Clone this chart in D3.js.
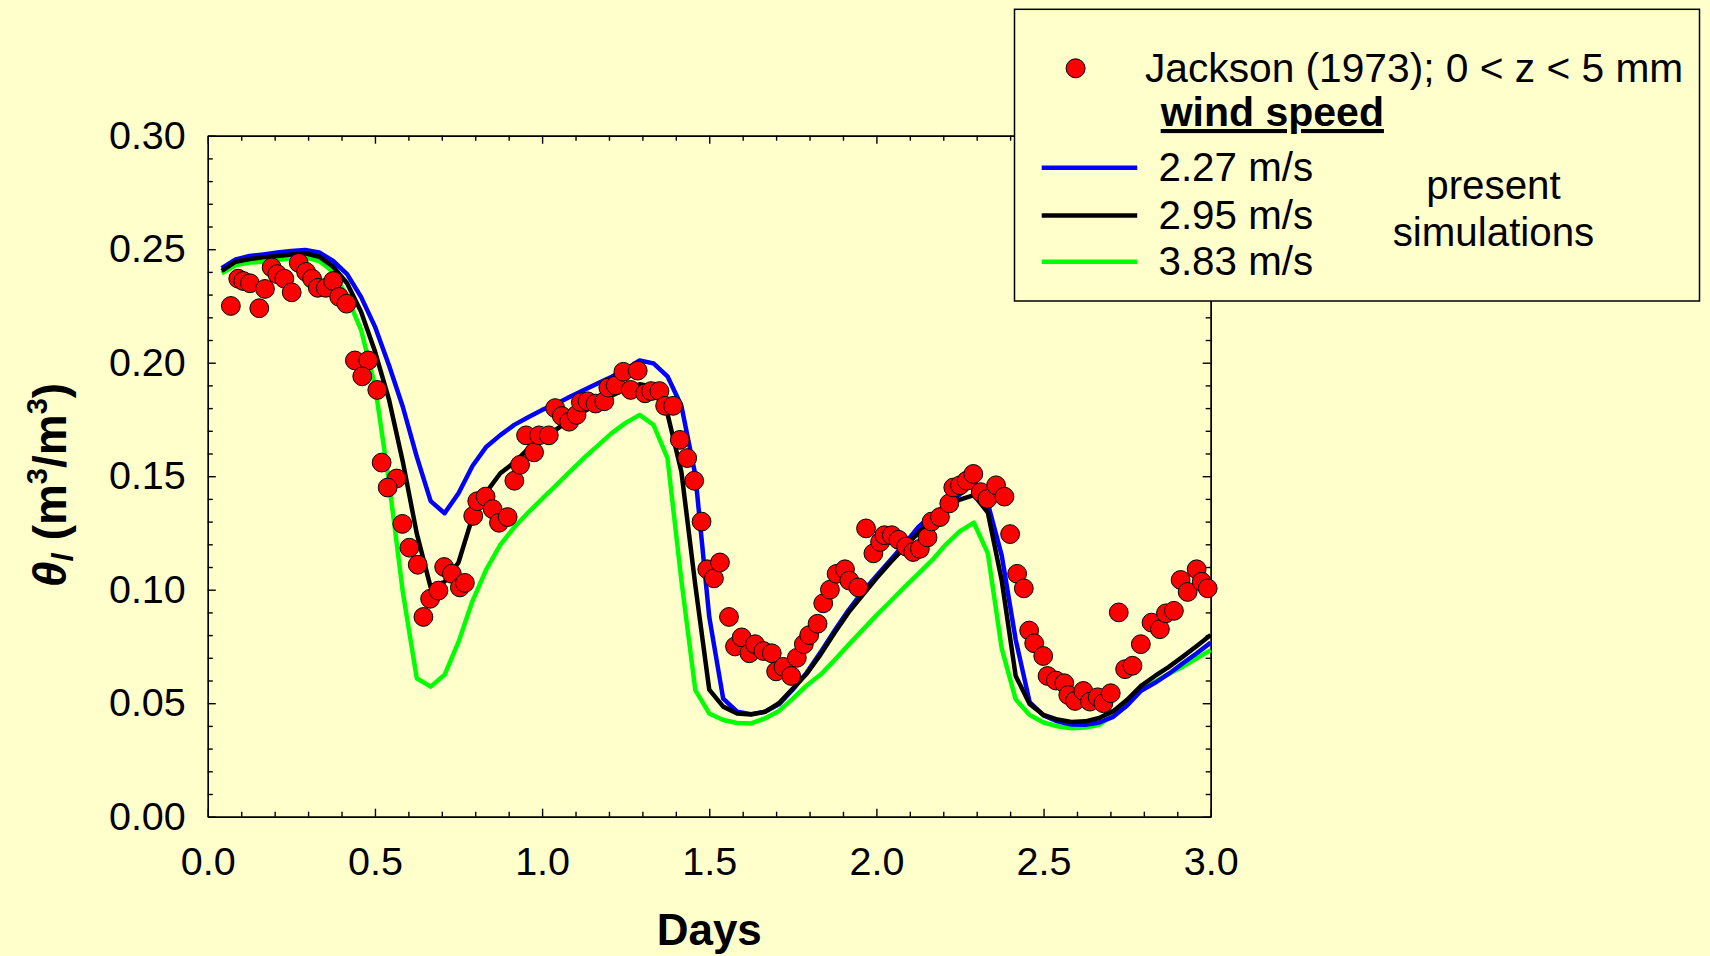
<!DOCTYPE html>
<html>
<head>
<meta charset="utf-8">
<script src="https://cdn.jsdelivr.net/npm/d3@7"></script>
<style>
  html, body { margin: 0; padding: 0; background: #ffffcc; }
  svg { display: block; }
  text { font-family: "Liberation Sans", Arial, sans-serif; fill: #000; }
</style>
</head>
<body>
<div class="chart"></div>
<script>
// observed data, Jackson (1973), 0 < z < 5 mm
const obsDays = [0.069,0.091,0.106,0.126,0.154,0.171,0.191,0.208,0.229,0.251,0.272,0.294,0.312,0.329,0.353,0.375,0.393,0.415,
  0.440,0.480,0.462,0.507,0.520,0.565,0.538,0.582,0.603,0.628,0.645,0.665,0.690,0.707,0.730,0.754,0.769,
  0.794,0.806,0.831,0.852,0.871,0.897,0.917,0.934,0.952,0.976,0.991,1.020,1.039,1.059,1.081,1.103,1.116,1.136,1.160,1.186,
  1.198,1.220,1.243,1.265,1.286,1.308,1.326,1.351,1.368,1.392,1.412,1.434,1.455,1.477,1.494,1.514,1.532,
  1.559,1.577,1.597,1.620,1.637,1.662,1.687,1.700,1.722,1.745,1.762,1.783,1.799,1.824,1.841,1.861,1.881,1.906,1.919,1.946,
  1.969,1.991,2.011,2.024,2.046,2.066,2.089,2.110,2.130,2.153,2.165,2.190,2.218,2.230,2.250,2.270,2.290,
  2.312,2.332,2.358,2.383,2.400,2.421,2.441,2.457,2.472,2.499,2.512,2.537,2.562,2.574,2.594,2.619,2.639,2.662,2.679,2.701,
  2.725,2.744,2.766,2.791,2.823,2.848,2.866,2.890,2.910,2.931,2.958,2.973,2.991];
const obsTheta = [0.225,0.237,0.236,0.235,0.224,0.2325,0.242,0.239,0.237,0.231,0.244,0.240,0.237,0.233,0.233,0.236,0.229,0.226,
  0.201,0.201,0.194,0.188,0.156,0.149,0.145,0.129,0.1185,0.111,0.088,0.096,0.0996,0.110,0.107,0.101,0.103,
  0.1325,0.139,0.141,0.1355,0.1295,0.132,0.148,0.155,0.168,0.1605,0.168,0.168,0.180,0.1765,0.174,0.177,0.1826,0.183,0.182,0.183,
  0.189,0.190,0.196,0.188,0.1965,0.1865,0.1875,0.1875,0.181,0.181,0.166,0.158,0.148,0.130,0.109,0.105,0.112,
  0.088,0.075,0.079,0.072,0.076,0.073,0.072,0.064,0.066,0.062,0.070,0.076,0.080,0.085,0.094,0.100,0.107,0.109,0.104,0.101,
  0.127,0.116,0.121,0.124,0.124,0.122,0.119,0.1166,0.118,0.123,0.130,0.132,0.138,0.145,0.146,0.148,0.151,
  0.143,0.140,0.146,0.141,0.1245,0.107,0.1006,0.082,0.0764,0.0708,0.062,0.060,0.0588,0.0536,0.051,0.0554,0.0507,0.0526,0.050,0.0544,
  0.090,0.065,0.0665,0.076,0.0855,0.0826,0.0896,0.0907,0.1043,0.099,0.109,0.1035,0.1006];

// simulation output, one value per hour
const simHours = [1,2,3,4,5,6,7,8,9,10,11,12,13,14,15,16,17,18,19,20,21,22,23,24,25,26,27,28,29,30,31,32,33,34,35,36,
  37,38,39,40,41,42,43,44,45,46,47,48,49,50,51,52,53,54,55,56,57,58,59,60,61,62,63,64,65,66,67,68,69,70,71,72];
const wind227 = [0.2416,0.2455,0.2470,0.2477,0.2485,0.2492,0.2497,0.2486,0.2448,0.2390,0.2290,0.2159,0.1990,0.1806,0.1586,0.1390,0.1337,0.1425,
  0.1545,0.1630,0.1681,0.1726,0.1760,0.1792,0.1818,0.1850,0.1880,0.1909,0.1938,0.1971,0.2010,0.1997,0.1940,0.1810,0.1505,0.0880,
  0.0520,0.0463,0.0452,0.0462,0.0495,0.0560,0.0635,0.0725,0.0820,0.0910,0.0990,0.1060,0.1130,0.1200,0.1275,0.1330,0.1370,0.1420,
  0.1470,0.1380,0.1150,0.0780,0.0505,0.0446,0.0420,0.0406,0.0405,0.0415,0.0440,0.0490,0.0555,0.0590,0.0630,0.0676,0.0720,0.0767];
const wind295 = [0.2405,0.2445,0.2457,0.2464,0.2470,0.2477,0.2482,0.2467,0.2423,0.2350,0.2225,0.2050,0.1840,0.1564,0.1248,0.1010,0.1035,0.1120,
  0.1320,0.1430,0.1513,0.1560,0.1620,0.1665,0.1705,0.1748,0.1785,0.1820,0.1855,0.1885,0.1905,0.1894,0.1775,0.1520,0.1020,0.0560,
  0.0485,0.0455,0.0450,0.0462,0.0500,0.0565,0.0630,0.0715,0.0810,0.0900,0.0975,0.1050,0.1120,0.1185,0.1250,0.1305,0.1365,0.1397,
  0.1417,0.1340,0.1040,0.0620,0.0497,0.0448,0.0428,0.0417,0.0420,0.0435,0.0465,0.0515,0.0576,0.0620,0.0660,0.0705,0.0752,0.0800];
const wind383 = [0.2394,0.2430,0.2441,0.2445,0.2452,0.2460,0.2464,0.2448,0.2401,0.2290,0.2145,0.1900,0.1480,0.0990,0.0610,0.0573,0.0625,0.0770,
  0.0950,0.1090,0.1197,0.1275,0.1340,0.1400,0.1460,0.1520,0.1580,0.1635,0.1690,0.1735,0.1770,0.1726,0.1580,0.1040,0.0558,0.0455,
  0.0426,0.0413,0.0411,0.0433,0.0466,0.0520,0.0578,0.0626,0.0690,0.0757,0.0822,0.0887,0.0948,0.1010,0.1070,0.1130,0.1200,0.1258,
  0.1295,0.1160,0.0740,0.0517,0.0448,0.0415,0.0398,0.0390,0.0393,0.0405,0.0448,0.0500,0.0558,0.0595,0.0630,0.0661,0.0698,0.0734];

const seriesNames = ["2.27 m/s", "2.95 m/s", "3.83 m/s"];
const seriesColors = ["#0000ff", "#000000", "#00ff00"];
const xMajor = [0, 0.5, 1.0, 1.5, 2.0, 2.5, 3.0];
const xMinor = [0.1,0.2,0.3,0.4,0.6,0.7,0.8,0.9,1.1,1.2,1.3,1.4,1.6,1.7,1.8,1.9,2.1,2.2,2.3,2.4,2.6,2.7,2.8,2.9];
const yMajor = [0, 0.05, 0.10, 0.15, 0.20, 0.25, 0.30];
const yMinor = [0.01,0.02,0.03,0.04,0.06,0.07,0.08,0.09,0.11,0.12,0.13,0.14,0.16,0.17,0.18,0.19,0.21,0.22,0.23,0.24,0.26,0.27,0.28,0.29];

const W = 1710, H = 956;
const plot = {left: 207.8, top: 135.7, right: 1210.7, bottom: 816.7};

const svg = d3.select('.chart').append('svg')
    .attr('width', W)
    .attr('height', H);

const xScale = d3.scaleLinear().domain([0, 3]).range([plot.left, plot.right]);
const yScale = d3.scaleLinear().domain([0, 0.3]).range([plot.bottom, plot.top]);

// axes, ticks pointing inward on all four sides
function styleAxis(g) {
    g.selectAll('path, line').attr('stroke', '#000').attr('stroke-width', 1.4);
    g.selectAll('text').attr('font-size', 39.5).attr('fill', '#000')
        .attr('font-family', '"Liberation Sans", Arial, sans-serif');
}

svg.append('g')
    .attr('transform', `translate(0,${plot.bottom})`)
    .call(d3.axisBottom(xScale).tickValues(xMajor).tickSize(-8).tickSizeOuter(0).tickPadding(30).tickFormat(d3.format('.1f')))
    .call(styleAxis);
svg.append('g')
    .attr('transform', `translate(0,${plot.bottom})`)
    .call(d3.axisBottom(xScale).tickValues(xMinor).tickSize(-5).tickSizeOuter(0).tickFormat(''))
    .call(styleAxis);

svg.append('g')
    .attr('transform', `translate(${plot.left},0)`)
    .call(d3.axisLeft(yScale).tickValues(yMajor).tickSize(-8).tickSizeOuter(0).tickPadding(22).tickFormat(d3.format('.2f')))
    .call(styleAxis);
svg.append('g')
    .attr('transform', `translate(${plot.left},0)`)
    .call(d3.axisLeft(yScale).tickValues(yMinor).tickSize(-5).tickSizeOuter(0).tickFormat(''))
    .call(styleAxis);

svg.append('g')
    .attr('transform', `translate(0,${plot.top})`)
    .call(d3.axisTop(xScale).tickValues(xMajor).tickSize(-8).tickSizeOuter(0).tickFormat(''))
    .call(styleAxis);
svg.append('g')
    .attr('transform', `translate(0,${plot.top})`)
    .call(d3.axisTop(xScale).tickValues(xMinor).tickSize(-5).tickSizeOuter(0).tickFormat(''))
    .call(styleAxis);

svg.append('g')
    .attr('transform', `translate(${plot.right},0)`)
    .call(d3.axisRight(yScale).tickValues(yMajor).tickSize(-8).tickSizeOuter(0).tickFormat(''))
    .call(styleAxis);
svg.append('g')
    .attr('transform', `translate(${plot.right},0)`)
    .call(d3.axisRight(yScale).tickValues(yMinor).tickSize(-5).tickSizeOuter(0).tickFormat(''))
    .call(styleAxis);

// simulation curves
const line = d3.line()
    .x((d, i) => xScale(simHours[i] / 24))
    .y(d => yScale(d));

const curves = [wind383, wind227, wind295];
const curveColors = [seriesColors[2], seriesColors[0], seriesColors[1]];
svg.selectAll('.sim')
    .data(curves)
    .enter()
    .append('path')
    .attr('class', 'sim')
    .attr('d', line)
    .attr('fill', 'none')
    .attr('stroke', (d, i) => curveColors[i])
    .attr('stroke-width', 4.5)
    .attr('stroke-linejoin', 'round');

// observations
svg.selectAll('.obs')
    .data(obsDays)
    .enter()
    .append('circle')
    .attr('class', 'obs')
    .attr('cx', d => xScale(d))
    .attr('cy', (d, i) => yScale(obsTheta[i]))
    .attr('r', 9.4)
    .attr('fill', '#ff0000')
    .attr('stroke', '#000')
    .attr('stroke-width', 1);

// axis titles
svg.append('text')
    .attr('x', (plot.left + plot.right) / 2)
    .attr('y', 945)
    .attr('text-anchor', 'middle')
    .attr('font-size', 44)
    .attr('font-weight', 'bold')
    .text('Days');

const yTitle = svg.append('text')
    .attr('transform', 'translate(66,485) rotate(-90)')
    .attr('text-anchor', 'middle')
    .attr('font-size', 46)
    .attr('font-weight', 'bold');
yTitle.append('tspan').attr('font-style', 'italic').text('θ');
yTitle.append('tspan').attr('font-style', 'italic').attr('font-size', 30).attr('dy', 7).text('l');
yTitle.append('tspan').attr('dy', -7).text(' (m');
yTitle.append('tspan').attr('font-size', 29).attr('dy', -19).text('3');
yTitle.append('tspan').attr('dy', 19).text('/m');
yTitle.append('tspan').attr('font-size', 29).attr('dy', -19).text('3');
yTitle.append('tspan').attr('dy', 19).text(')');

// legend
const legend = svg.append('g').attr('class', 'legend');
legend.append('rect')
    .attr('x', 1014.5).attr('y', 9.3)
    .attr('width', 685).attr('height', 291.7)
    .attr('fill', '#ffffcc')
    .attr('stroke', '#000')
    .attr('stroke-width', 1.5);

legend.append('circle')
    .attr('cx', 1075.6).attr('cy', 68.3).attr('r', 9.5)
    .attr('fill', '#ff0000').attr('stroke', '#000').attr('stroke-width', 1);
legend.append('text')
    .attr('x', 1145).attr('y', 81.7)
    .attr('font-size', 40.7)
    .text('Jackson (1973); 0 < z < 5 mm');

legend.append('text')
    .attr('x', 1160.7).attr('y', 126)
    .attr('font-size', 41)
    .attr('font-weight', 'bold')
    .attr('text-decoration', 'underline')
    .text('wind speed');

const rowY = [167.7, 215.5, 261.7];
const rows = legend.selectAll('.row')
    .data(seriesNames)
    .enter()
    .append('g')
    .attr('class', 'row')
    .attr('transform', (d, i) => `translate(0,${rowY[i]})`);
rows.append('line')
    .attr('x1', 1041.7).attr('x2', 1137.2)
    .attr('stroke', (d, i) => seriesColors[i])
    .attr('stroke-width', 4.5);
rows.append('text')
    .attr('x', 1158.5).attr('y', 13.5)
    .attr('font-size', 40.3)
    .text(d => d);

legend.append('text')
    .attr('x', 1493.5).attr('y', 199)
    .attr('text-anchor', 'middle')
    .attr('font-size', 40.3)
    .text('present');
legend.append('text')
    .attr('x', 1493.5).attr('y', 246)
    .attr('text-anchor', 'middle')
    .attr('font-size', 40.3)
    .text('simulations');
</script>
</body>
</html>
